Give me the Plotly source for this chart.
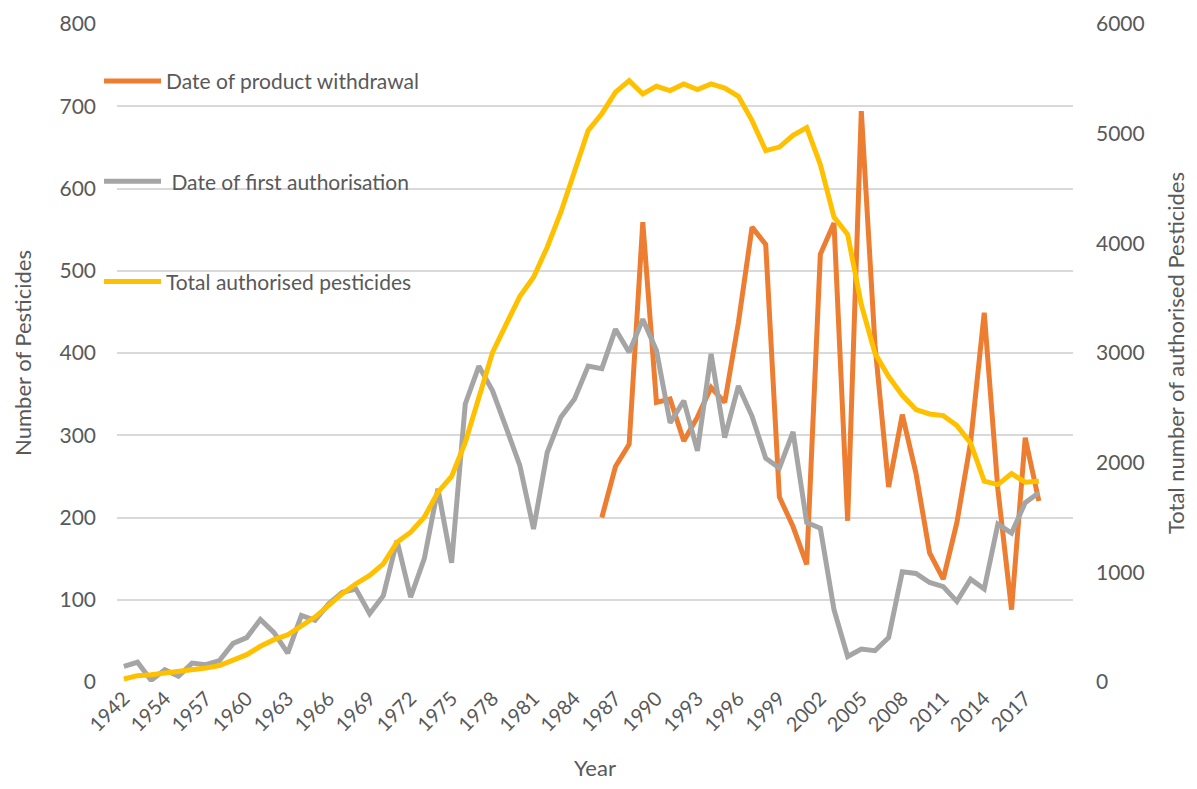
import plotly.graph_objects as go

# ---- data ----
years = ["1942", "1945", "1950"] + [str(y) for y in range(1954, 2019)]

first_authorisation = [19, 24, 2, 15, 7, 23, 21, 26, 47, 54, 76, 60, 35, 81, 75, 95, 109, 113, 83, 105,
                       172, 103, 150, 235, 145, 338, 384, 354, 309, 263, 186, 279, 322, 344, 384, 381,
                       429, 401, 441, 403, 315, 342, 281, 399, 297, 360, 323, 272, 260, 304, 194, 187,
                       88, 31, 40, 38, 54, 134, 132, 121, 116, 98, 125, 113, 192, 181, 218, 230]

withdrawal = [None] * 35 + [200, 262, 289, 559, 340, 344, 293, 322, 358, 340, 437, 553, 532, 225, 189,
                            143, 520, 558, 196, 694, 410, 237, 325, 254, 157, 125, 194, 291, 449, 234,
                            88, 297, 220]

total_authorised = [27, 58, 67, 82, 88, 106, 128, 149, 198, 249, 326, 386, 430, 516, 592, 698, 805, 896,
                    972, 1078, 1275, 1366, 1503, 1731, 1875, 2185, 2611, 3006, 3264, 3517, 3691, 3965,
                    4284, 4650, 5030, 5182, 5378, 5483, 5362, 5432, 5393, 5454, 5402, 5454, 5415, 5341,
                    5119, 4846, 4878, 4985, 5056, 4718, 4239, 4080, 3441, 2998, 2785, 2614, 2484, 2444,
                    2429, 2338, 2180, 1831, 1800, 1900, 1822, 1831]

tick_labels = years[::3]

FONT = "Lato"
TXT = "#595959"

fig = go.Figure()
fig.add_trace(go.Scatter(x=years, y=withdrawal, name="Date of product withdrawal", mode="lines",
                         line=dict(color="#ED7D31", width=5), legendgroup="a", legendrank=1,
                         connectgaps=False))
fig.add_trace(go.Scatter(x=years, y=first_authorisation, name="\u00a0Date of first authorisation",
                         mode="lines", line=dict(color="#A5A5A5", width=5), legendgroup="b",
                         legendrank=2))
fig.add_trace(go.Scatter(x=years, y=total_authorised, name="Total authorised pesticides", mode="lines",
                         line=dict(color="#FFC000", width=5), yaxis="y2", legendgroup="c",
                         legendrank=3))

fig.update_layout(
    width=1181, height=773,
    margin=dict(l=109, r=116, t=16, b=99, autoexpand=False),
    paper_bgcolor="white", plot_bgcolor="white",
    font=dict(family=FONT, color=TXT, size=21),
    showlegend=True,
    legend=dict(x=-0.0188, y=0.944, xanchor="left", yanchor="top", bgcolor="rgba(0,0,0,0)",
                font=dict(size=21, color=TXT, family=FONT), tracegroupgap=70, itemwidth=57,
                traceorder="grouped"),
    xaxis=dict(type="category", range=[-0.5, 69.5], tickmode="array", tickvals=tick_labels,
               ticktext=tick_labels, tickangle=-45, showgrid=False, showline=False, zeroline=False,
               tickfont=dict(size=20, color=TXT, family=FONT), ticks="", automargin=False,
               title=dict(text="Year", font=dict(size=22, color=TXT, family=FONT), standoff=46)),
    yaxis=dict(range=[0, 800], dtick=100, showgrid=True, gridcolor="#D9D9D9", gridwidth=1.5,
               zeroline=False, showline=False, ticks="", ticklabelstandoff=20, automargin=False,
               tickfont=dict(size=21, color=TXT, family=FONT),
               title=dict(text="Number of Pesticides", font=dict(size=22, color=TXT, family=FONT),
                          standoff=21)),
    yaxis2=dict(range=[0, 6000], dtick=1000, overlaying="y", side="right", showgrid=False,
                zeroline=False, showline=False, ticks="", ticklabelstandoff=22, automargin=False,
                tickfont=dict(size=21, color=TXT, family=FONT),
                title=dict(text="Total number of authorised Pesticides",
                           font=dict(size=22, color=TXT, family=FONT), standoff=34)),
)

fig.write_html("out.html")
